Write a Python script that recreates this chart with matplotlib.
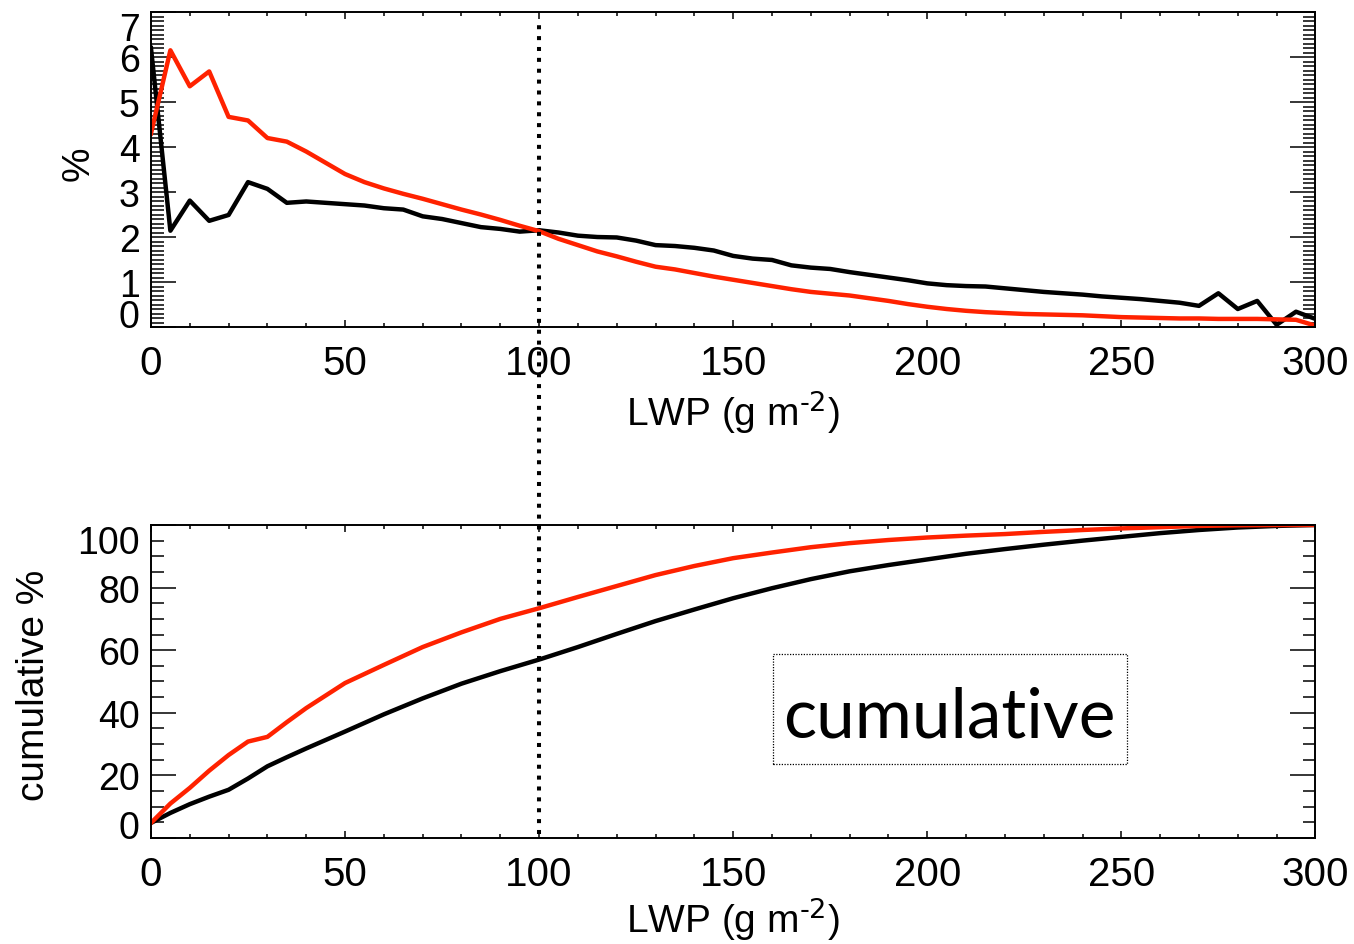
import matplotlib
matplotlib.use('Agg')
import matplotlib.pyplot as plt
from matplotlib.ticker import MultipleLocator
from matplotlib.patches import Rectangle

# LWP bins (g m-2)
lwp = list(range(0, 301, 5))

# frequency distribution (%)
pdf_red = [4.3, 6.15, 5.35, 5.68, 4.67, 4.59, 4.2, 4.12, 3.9, 3.65,
           3.4, 3.22, 3.08, 2.96, 2.85, 2.73, 2.61, 2.5, 2.38, 2.25,
           2.13, 1.96, 1.82, 1.68, 1.57, 1.45, 1.34, 1.28, 1.2, 1.12,
           1.05, 0.98, 0.91, 0.84, 0.78, 0.74, 0.70, 0.64, 0.58, 0.51,
           0.45, 0.40, 0.36, 0.33, 0.31, 0.29, 0.28, 0.27, 0.26, 0.24,
           0.22, 0.21, 0.2, 0.19, 0.19, 0.18, 0.18, 0.18, 0.17, 0.16,
           0.03]
pdf_black = [6.2, 2.14, 2.81, 2.36, 2.49, 3.22, 3.07, 2.76, 2.79, 2.76,
             2.73, 2.7, 2.64, 2.61, 2.46, 2.4, 2.31, 2.22, 2.18, 2.12,
             2.15, 2.1, 2.03, 2.0, 1.99, 1.92, 1.82, 1.8, 1.76, 1.7,
             1.58, 1.52, 1.49, 1.37, 1.32, 1.29, 1.22, 1.16, 1.1, 1.04,
             0.97, 0.93, 0.91, 0.9, 0.86, 0.82, 0.78, 0.75, 0.72, 0.68,
             0.65, 0.62, 0.58, 0.54, 0.47, 0.75, 0.4, 0.58, 0.05, 0.34,
             0.18]

# cumulative distribution (%)
cum_lwp = [0, 5, 10, 15, 20, 25, 30, 35, 40, 50, 60, 70, 80, 90, 100,
           110, 120, 130, 140, 150, 160, 170, 180, 190, 200,
           210, 220, 230, 240, 250, 260, 270, 280, 290, 300]
cum_red = [4.8, 11.0, 16.0, 21.5, 26.5, 30.8, 32.3, 37.0, 41.5, 49.5,
           55.3, 61.0, 65.7, 70.0, 73.4,
           77.0, 80.5, 84.0, 86.9, 89.4, 91.2, 92.9, 94.2, 95.2, 96.0,
           96.6, 97.1, 97.8, 98.4, 98.9, 99.3, 99.7, 99.9, 100.0, 100.0]
cum_black = [4.8, 8.0, 10.8, 13.2, 15.4, 19.0, 22.9, 25.8, 28.6, 34.0,
             39.5, 44.6, 49.3, 53.3, 57.0,
             61.0, 65.2, 69.3, 73.0, 76.6, 79.8, 82.7, 85.2, 87.2, 89.0,
             90.8, 92.3, 93.7, 95.0, 96.2, 97.4, 98.4, 99.2, 99.7, 100.0]

pdf_yticks = [0, 1, 2, 3, 4, 5, 6, 7]
cum_yticks = [0, 20, 40, 60, 80, 100]
split_lwp = 100

RED = '#ff2200'
narrow = ['Liberation Sans Narrow', 'Liberation Sans', 'DejaVu Sans']
plt.rcParams['font.family'] = narrow

fig = plt.figure(figsize=(13.54, 9.45), dpi=100)
ax1 = fig.add_axes([0.1115, 0.6529, 0.8600, 0.3333])
ax2 = fig.add_axes([0.1115, 0.1122, 0.8600, 0.3312])


def style(ax, yticks, yminor):
    ax.set_xlim(0, 300)
    ax.set_ylim(yticks[0], yticks[-1])
    ax.set_yticks(yticks)
    ax.xaxis.set_major_locator(MultipleLocator(50))
    ax.xaxis.set_minor_locator(MultipleLocator(10))
    ax.yaxis.set_minor_locator(MultipleLocator(yminor))
    ax.tick_params(which='both', direction='in', top=True, right=True,
                   width=1.1)
    ax.tick_params(axis='x', which='major', length=5, pad=12, labelsize=29)
    ax.tick_params(axis='x', which='minor', length=2.8)
    ax.tick_params(axis='y', which='major', length=18, pad=8, labelsize=27)
    ax.tick_params(axis='y', which='minor', length=9)
    for s in ax.spines.values():
        s.set_linewidth(1.4)
    ticks = ax.yaxis.get_major_ticks()
    ticks[0].label1.set_verticalalignment('baseline')
    ticks[-1].label1.set_verticalalignment('top')
    ax.set_xlabel('LWP (g m$^{\\text{-2}}$)', fontsize=28)


# top: distribution
ax1.plot(lwp, pdf_black, color='black', lw=3.2)
ax1.plot(lwp, pdf_red, color=RED, lw=3.2)
style(ax1, pdf_yticks, 0.1)
ax1.set_ylabel('%', fontsize=28, family=['Liberation Sans', 'DejaVu Sans'])
ax1.yaxis.set_label_coords(-0.047, 0.52)
ax1.xaxis.set_label_coords(0.5, -0.19)

# bottom: cumulative
ax2.plot(cum_lwp, cum_black, color='black', lw=3.2)
ax2.plot(cum_lwp, cum_red, color=RED, lw=3.2)
style(ax2, cum_yticks, 5)
ax2.set_ylabel('cumulative %', fontsize=28, family=['Liberation Sans', 'DejaVu Sans'])
ax2.yaxis.set_label_coords(-0.085, 0.49)
ax2.xaxis.set_label_coords(0.5, -0.18)

# labelled box
ax2.add_patch(Rectangle((0.534, 0.236), 0.3045, 0.352, transform=ax2.transAxes,
                        fc='white', ec='black', lw=0.9, ls=(0, (1, 1.2)), zorder=3))
ax2.text(0.686, 0.323, 'cumulative', fontsize=50, family=['Lato', 'DejaVu Sans'],
         ha='center', va='baseline', transform=ax2.transAxes, zorder=4)

# dotted marker at LWP = 100 across both panels
top_in_ax2 = ax2.transData.inverted().transform(ax1.transData.transform((split_lwp, 6.85)))[1]
ax2.plot([split_lwp, split_lwp], [1.3, top_in_ax2], color='black', lw=2.9,
         linestyle=(0, (1, 1.7)), dash_capstyle='butt', clip_on=False, zorder=5)

fig.savefig('out.png', dpi=100)
